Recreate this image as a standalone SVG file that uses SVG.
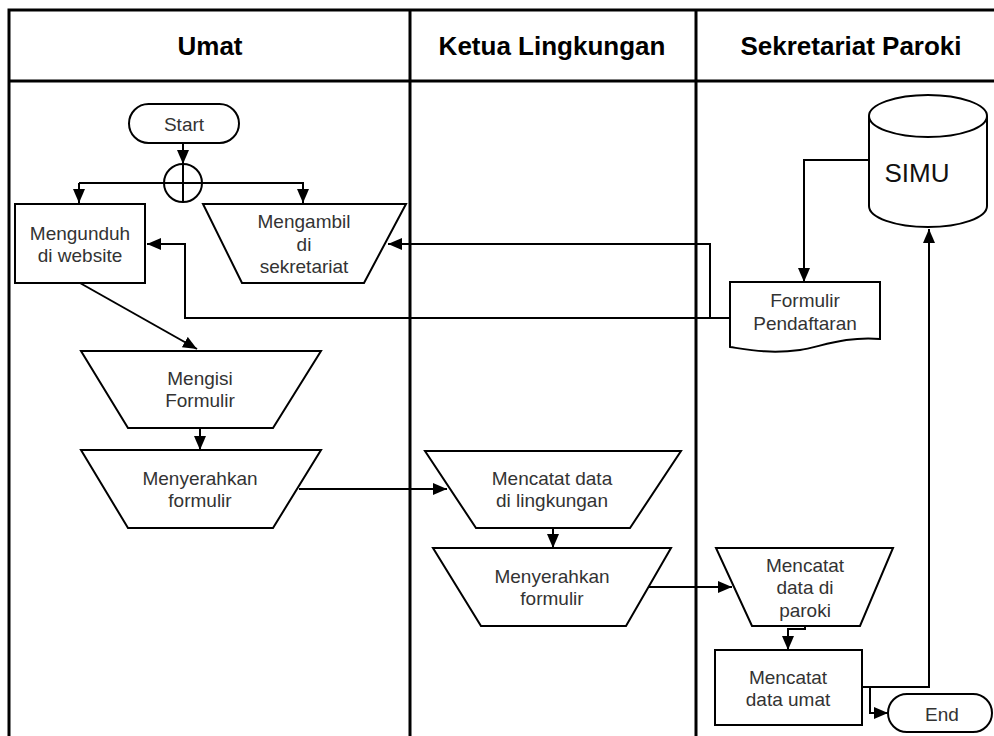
<svg xmlns="http://www.w3.org/2000/svg" width="994" height="736" viewBox="0 0 994 736">
<defs>
<marker id="arr" viewBox="0 0 14 12" refX="14" refY="6" markerWidth="14" markerHeight="12" markerUnits="userSpaceOnUse" orient="auto">
<path d="M0,0 L14,6 L0,12 z" fill="#000"/>
</marker>
<style>
.lane{fill:none;stroke:#000;stroke-width:3}
.node{fill:#fff;stroke:#000;stroke-width:2}
.hd{font-family:"Liberation Sans",Arial,sans-serif;font-size:26px;font-weight:bold;fill:#000;text-anchor:middle}
.t{font-family:"Liberation Sans",Arial,sans-serif;font-size:19px;fill:#333;text-anchor:middle}
.big{font-family:"Liberation Sans",Arial,sans-serif;font-size:26px;fill:#111;text-anchor:middle}
.c{fill:none;stroke:#000;stroke-width:2}
.ca{fill:none;stroke:#000;stroke-width:2;marker-end:url(#arr)}
</style>
</defs>
<rect width="994" height="736" fill="#fff"/>
<g id="pool">
<rect class="lane" x="9" y="10" width="1000" height="740"/>
<line class="lane" x1="9" y1="81" x2="994" y2="81"/>
<line class="lane" x1="410" y1="10" x2="410" y2="736"/>
<line class="lane" x1="696" y1="10" x2="696" y2="736"/>
<text class="hd" x="210" y="55">Umat</text>
<text class="hd" x="552" y="55">Ketua Lingkungan</text>
<text class="hd" x="851" y="55">Sekretariat Paroki</text>
</g>
<g id="connectors">
<path class="ca" d="M183,143 L183,164"/>
<path class="ca" d="M79,183 L287,183 M79,183 L79,203"/>
<path class="ca" d="M287,183 L303,183 L303,203"/>
<path class="ca" d="M869,160 L804,160 L804,282"/>
<path class="ca" d="M729,318 L710,318 L710,244 L388,244"/>
<path class="ca" d="M710,318 L185,318 L185,244 L147,244"/>
<path class="ca" d="M80,283 L197,349"/>
<path class="ca" d="M200,428 L200,450"/>
<path class="ca" d="M299,489 L447,489"/>
<path class="ca" d="M553,528 L553,548"/>
<path class="ca" d="M648,587 L732,587"/>
<path class="ca" d="M805,626 L805,629 L788,629 L788,650"/>
<path class="ca" d="M862,687 L929,687 L929,229"/>
<path class="ca" d="M870,687 L870,713 L888,713"/>
</g>
<g id="start">
<rect class="node" x="129" y="104" width="110" height="39" rx="19.5"/>
<text class="t" x="184" y="131">Start</text>
</g>
<g id="fork">
<circle class="node" cx="183" cy="183" r="19"/>
<path class="c" d="M164,183 L202,183 M183,164 L183,202"/>
</g>
<g id="mengunduh">
<rect class="node" x="15" y="204" width="130" height="79"/>
<text class="t" x="80" y="240">Mengunduh</text>
<text class="t" x="80" y="262">di website</text>
</g>
<g id="mengambil">
<path class="node" d="M203,204 L406,204 L364,283 L242,283 z"/>
<text class="t" x="304" y="228">Mengambil</text>
<text class="t" x="304" y="251">di</text>
<text class="t" x="304" y="273">sekretariat</text>
</g>
<g id="simu">
<path class="node" d="M869,116 L869,206 A59,21 0 0 0 987,206 L987,116 A59,21 0 0 0 869,116 z"/>
<path class="c" d="M869,116 A59,21 0 0 0 987,116"/>
<text class="big" x="917" y="182">SIMU</text>
</g>
<g id="formulir-pendaftaran">
<path class="node" d="M730,282 L880,282 L880,339 C845,336 820,347 800,350 C770,354 750,350 730,347 z"/>
<text class="t" x="805" y="307">Formulir</text>
<text class="t" x="805" y="330">Pendaftaran</text>
</g>
<g id="mengisi">
<path class="node" d="M81,351 L321,351 L273,428 L128,428 z"/>
<text class="t" x="200" y="385">Mengisi</text>
<text class="t" x="200" y="407">Formulir</text>
</g>
<g id="menyerahkan-umat">
<path class="node" d="M81,450 L321,450 L273,528 L128,528 z"/>
<text class="t" x="200" y="485">Menyerahkan</text>
<text class="t" x="200" y="507">formulir</text>
</g>
<g id="mencatat-lingkungan">
<path class="node" d="M425,451 L681,451 L630,528 L476,528 z"/>
<text class="t" x="552" y="485">Mencatat data</text>
<text class="t" x="552" y="507">di lingkungan</text>
</g>
<g id="menyerahkan-ketua">
<path class="node" d="M433,548 L671,548 L626,626 L481,626 z"/>
<text class="t" x="552" y="583">Menyerahkan</text>
<text class="t" x="552" y="605">formulir</text>
</g>
<g id="mencatat-paroki">
<path class="node" d="M716,548 L893,548 L860,626 L752,626 z"/>
<text class="t" x="805" y="572">Mencatat</text>
<text class="t" x="805" y="594">data di</text>
<text class="t" x="805" y="617">paroki</text>
</g>
<g id="mencatat-umat">
<rect class="node" x="715" y="650" width="147" height="75"/>
<text class="t" x="788" y="684">Mencatat</text>
<text class="t" x="788" y="706">data umat</text>
</g>
<g id="end">
<rect class="node" x="888" y="694" width="104" height="38" rx="19"/>
<text class="t" x="942" y="721">End</text>
</g>
</svg>
